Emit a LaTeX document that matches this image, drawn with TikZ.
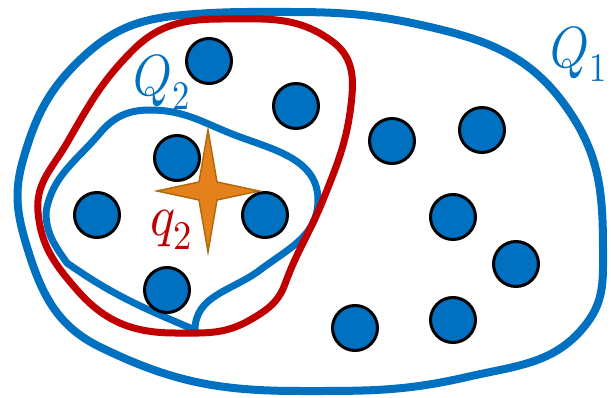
\documentclass[tikz,border=0pt]{standalone}
\usepackage{amsmath}
\usepackage{unicode-math}
\usepackage{graphicx}
\usetikzlibrary{positioning}
\definecolor{qblue}{HTML}{0070C0}
\definecolor{qred}{HTML}{C00000}
\definecolor{starfill}{HTML}{E5811A}
\definecolor{starline}{HTML}{B0690F}

\begin{document}
\begin{tikzpicture}[
  x=1pt, y=-1pt,
  dot/.style={circle, draw=black, fill=qblue, line width=3pt, minimum size=45pt, inner sep=0pt},
  hull/.style={line width=8pt, line join=round},
  bound/.style={line width=7pt, line join=round, line cap=round},
  lab/.style={font=\fontsize{58}{58}\selectfont, inner sep=0pt},
  spark/.style={fill=starfill, draw=starline, line width=1.5pt, line join=miter}
]
\useasboundingbox (0,0) rectangle (611,398);

\draw[hull, qblue] (290,12) to[out=0,in=167] (430,27) to[out=-13,in=125] (567,108)
  to[out=-55,in=90] (603,250) to[out=-90,in=53] (587,323) to[out=-127,in=13] (467,377)
  to[out=-167,in=0] (300,391) to[out=180,in=-26] (100,347) to[out=154,in=-73] (27,247)
  to[out=107,in=-106] (23,160) to[out=74,in=-137] (83,57) to[out=43,in=-175] (183,15)
  to[out=5,in=180] cycle;

\draw[bound, qblue] (195,330) to[out=157,in=-35] (67,263) to[out=125,in=-90] (46,212)
  to[out=80,in=-130] (100,133) to[out=50,in=180] (150,110) to[out=0,in=160] (240,137)
  to[out=-20,in=90] (318,200) to[out=-90,in=37] (260,270) to[out=-143,in=90] (195,330);

\draw[bound, qred] (222,19) to[out=0,in=143] (333,42) to[out=-37,in=85] (352,95)
  to[out=-95,in=68] (323,200) to[out=-112,in=70] (285,284) to[out=-110,in=30] (250,320)
  to[out=-150,in=0] (175,333) to[out=180,in=-49] (77,290) to[out=131,in=-85] (38,212)
  to[out=95,in=-120] (67,143) to[out=60,in=-135] (133,50) to[out=45,in=180] cycle;

\node[dot] (d1) at (209,61) {};
\node[dot] (d2) at (296,106) {};
\node[dot] (d3) at (392,141) {};
\node[dot] (d4) at (482,130) {};
\node[dot] (d5) at (177,158) {};
\node[dot] (d6) at (97,215) {};
\node[dot] (d7) at (265,215) {};
\node[dot] (d8) at (167,290) {};
\node[dot] (d9) at (453,217) {};
\node[dot] (d10) at (516,264) {};
\node[dot] (d11) at (453,320) {};
\node[dot] (d12) at (355,328) {};

\coordinate (q2) at (208,191);
\draw[spark, shift={(q2)}] (0,-61) -- (9,-9) -- (51,0) -- (9,9) -- (0,61) -- (-9,9) -- (-51,0) -- (-9,-9) -- cycle;

\node[lab, text=qblue] (Q1lab) at (579,54) {\scalebox{0.85}[1]{$Q_1$}};
\node[lab, text=qblue] (Q2lab) at (162,82) {\scalebox{0.85}[1]{$Q_2$}};
\node[lab, text=qred] (q2lab) at (171,230) {\scalebox{0.9}[1]{$q_2$}};
\end{tikzpicture}
\end{document}
